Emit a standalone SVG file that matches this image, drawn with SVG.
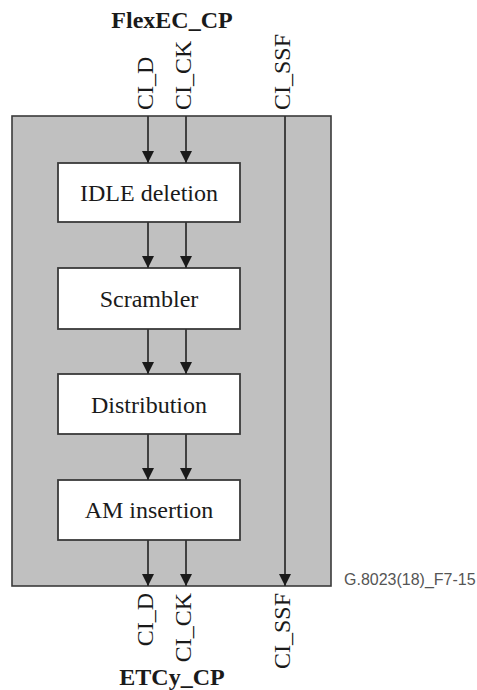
<svg xmlns="http://www.w3.org/2000/svg" width="477" height="690" viewBox="0 0 477 690">
  <style>
    .frame { fill: #c0c0c0; stroke: #3a3a3a; stroke-width: 1.6; }
    .box { fill: #ffffff; stroke: #3a3a3a; stroke-width: 1.8; }
    .conn { stroke: #333333; stroke-width: 1.8; fill: none; marker-end: url(#arrow); }
    text.serif { font-family: 'Liberation Serif', 'DejaVu Serif', serif; font-size: 24px; fill: #1a1a1a; }
    text.title { font-weight: bold; text-anchor: middle; }
    text.lbl { text-anchor: middle; }
    text.code { font-family: 'Liberation Sans', Arial, sans-serif; font-size: 16px; fill: #555555; }
  </style>
  <defs>
    <marker id="arrow" markerUnits="userSpaceOnUse" markerWidth="12" markerHeight="12" refX="12" refY="6" orient="auto" viewBox="0 0 12 12">
      <path d="M0,0 L12,6 L0,12 Z" fill="#1a1a1a"/>
    </marker>
  </defs>

  <rect id="frame" class="frame" x="12" y="116" width="319" height="470"/>

  <g id="node-idle">
    <rect class="box" x="58" y="163" width="182" height="59"/>
    <text class="serif lbl" font-family="Liberation Serif, DejaVu Serif, serif" x="149" y="201">IDLE deletion</text>
  </g>
  <g id="node-scrambler">
    <rect class="box" x="58" y="268" width="182" height="61"/>
    <text class="serif lbl" font-family="Liberation Serif, DejaVu Serif, serif" x="149" y="307">Scrambler</text>
  </g>
  <g id="node-distribution">
    <rect class="box" x="58" y="374" width="182" height="60"/>
    <text class="serif lbl" font-family="Liberation Serif, DejaVu Serif, serif" x="149" y="413">Distribution</text>
  </g>
  <g id="node-am">
    <rect class="box" x="58" y="480" width="182" height="60"/>
    <text class="serif lbl" font-family="Liberation Serif, DejaVu Serif, serif" x="149" y="518">AM insertion</text>
  </g>

  <g id="connectors">
    <line class="conn" x1="148" y1="116" x2="148" y2="163"/>
    <line class="conn" x1="186" y1="116" x2="186" y2="163"/>
    <line class="conn" x1="148" y1="222" x2="148" y2="268"/>
    <line class="conn" x1="186" y1="222" x2="186" y2="268"/>
    <line class="conn" x1="148" y1="329" x2="148" y2="374"/>
    <line class="conn" x1="186" y1="329" x2="186" y2="374"/>
    <line class="conn" x1="148" y1="434" x2="148" y2="480"/>
    <line class="conn" x1="186" y1="434" x2="186" y2="480"/>
    <line class="conn" x1="148" y1="540" x2="148" y2="586"/>
    <line class="conn" x1="186" y1="540" x2="186" y2="586"/>
    <line class="conn" x1="285" y1="116" x2="285" y2="586"/>
  </g>

  <g id="top-labels">
    <text class="serif title" x="172" y="28">FlexEC_CP</text>
    <text class="serif" transform="translate(153,110) rotate(-90)">CI_D</text>
    <text class="serif" transform="translate(191,110) rotate(-90)">CI_CK</text>
    <text class="serif" transform="translate(290,110) rotate(-90)">CI_SSF</text>
  </g>

  <g id="bottom-labels">
    <text class="serif" text-anchor="end" transform="translate(153,593) rotate(-90)">CI_D</text>
    <text class="serif" text-anchor="end" transform="translate(191,593) rotate(-90)">CI_CK</text>
    <text class="serif" text-anchor="end" transform="translate(290,593) rotate(-90)">CI_SSF</text>
    <text class="serif title" x="172" y="685">ETCy_CP</text>
  </g>

  <text id="figure-code" class="code" x="344" y="585">G.8023(18)_F7-15</text>
</svg>
